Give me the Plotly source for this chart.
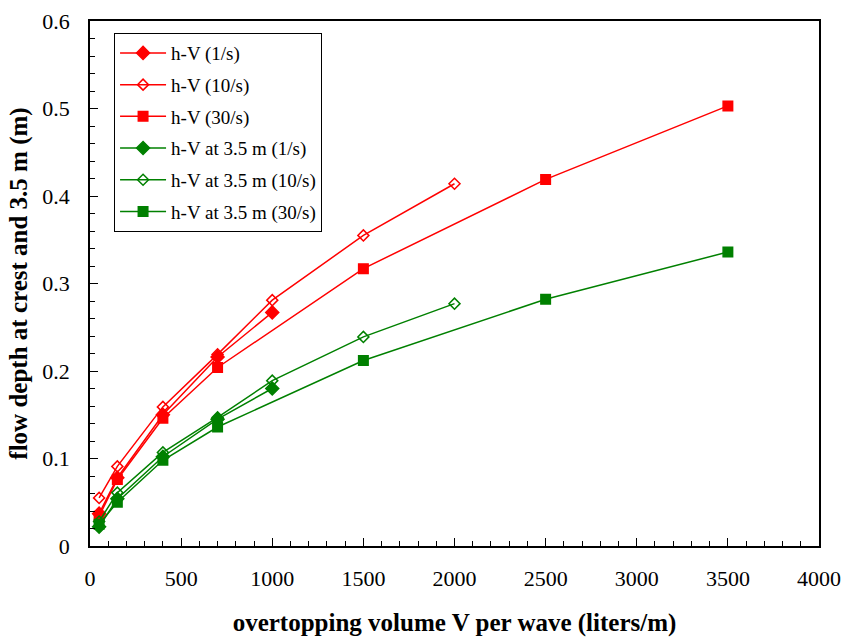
import plotly.graph_objects as go

# Overtopping volume per wave (liters/m) for each test series
v_short = [50, 150, 400, 700, 1000]
v_mid = [50, 150, 400, 700, 1000, 1500, 2000]
v_long = [50, 150, 400, 700, 1500, 2500, 3500]

# Flow depth at crest (m)
h_crest_1 = [0.037, 0.078, 0.150, 0.216, 0.267]
h_crest_10 = [0.055, 0.091, 0.159, 0.219, 0.281, 0.355, 0.414]
h_crest_30 = [0.034, 0.076, 0.146, 0.204, 0.317, 0.419, 0.503]

# Flow depth at 3.5 m (m)
h_35_1 = [0.022, 0.054, 0.102, 0.145, 0.180]
h_35_10 = [0.028, 0.061, 0.107, 0.147, 0.189, 0.239, 0.277]
h_35_30 = [0.025, 0.050, 0.098, 0.136, 0.212, 0.282, 0.336]

RED = "#FF0000"
GREEN = "#008000"
SERIF = "Liberation Serif, Times New Roman, serif"

series = [
    ("h-V (1/s)", v_short, h_crest_1, RED, "diamond", 10),
    ("h-V (10/s)", v_mid, h_crest_10, RED, "diamond-open", 8.5),
    ("h-V (30/s)", v_long, h_crest_30, RED, "square", 9.5),
    ("h-V at 3.5 m (1/s)", v_short, h_35_1, GREEN, "diamond", 10),
    ("h-V at 3.5 m (10/s)", v_mid, h_35_10, GREEN, "diamond-open", 8.5),
    ("h-V at 3.5 m (30/s)", v_long, h_35_30, GREEN, "square", 9.5),
]

fig = go.Figure()
for i, (name, xs, ys, color, symbol, size) in enumerate(series):
    fig.add_trace(go.Scatter(
        x=xs, y=ys, name=name, mode="lines+markers",
        legendgroup=f"g{i}",
        line=dict(color=color, width=1.5),
        marker=dict(symbol=symbol, size=size, color=color,
                    line=dict(color=color, width=1.5)),
    ))

tick_font = dict(family=SERIF, size=22, color="black", weight="normal")

axis_common = dict(
    showgrid=False, zeroline=False, automargin=False,
    showline=True, linecolor="black", linewidth=1.5, mirror=True,
    ticks="inside", ticklen=8, tickwidth=1, tickcolor="black",
    tickfont=tick_font,
)

fig.update_layout(
    width=845, height=637,
    margin=dict(l=90, r=26, t=21, b=91),
    paper_bgcolor="white", plot_bgcolor="white",
    font=dict(family=SERIF, color="black"),
    xaxis=dict(
        range=[0, 4000], dtick=500, tick0=0,
        minor=dict(dtick=100, ticks="inside", ticklen=5, tickcolor="black"),
        ticklabelstandoff=12,
        title=dict(text="<b>overtopping volume V per wave (liters/m)</b>",
                   font=dict(family=SERIF, size=25), standoff=26),
        **axis_common,
    ),
    yaxis=dict(
        range=[0, 0.6], dtick=0.1, tick0=0, tickformat="~g",
        minor=dict(dtick=0.02, ticks="inside", ticklen=5, tickcolor="black"),
        ticklabelstandoff=14,
        title=dict(text="<b>flow depth at crest and 3.5 m (m)</b>",
                   font=dict(family=SERIF, size=25), standoff=8),
        **axis_common,
    ),
    legend=dict(
        x=0.033, y=0.977, xanchor="left", yanchor="top",
        bgcolor="white", bordercolor="black", borderwidth=1,
        font=dict(family=SERIF, size=19, color="black"),
        tracegroupgap=4,
        itemwidth=46,
    ),
    showlegend=True,
)

fig.write_html("out.html")
